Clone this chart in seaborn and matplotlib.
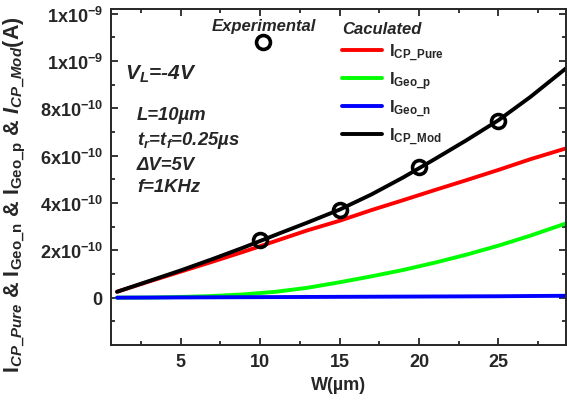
import numpy as np
import pandas as pd
import seaborn as sns
import matplotlib.pyplot as plt
from matplotlib.lines import Line2D

# W in um, currents in units of 1e-10 A
w = [1, 3, 5, 7, 9, 11, 13, 15, 17, 19, 21, 23, 25, 27, 29.3]
i_cp_pure = [0.25, 0.68, 1.1, 1.52, 1.95, 2.4, 2.85, 3.25, 3.7, 4.12, 4.55, 4.97, 5.4, 5.85, 6.32]
i_geo_p = [0.0, 0.005, 0.03, 0.07, 0.14, 0.25, 0.42, 0.65, 0.9, 1.17, 1.48, 1.82, 2.2, 2.62, 3.15]
i_geo_n = [0.0, 0.005, 0.01, 0.015, 0.02, 0.025, 0.03, 0.035, 0.04, 0.045, 0.05, 0.055, 0.06, 0.07, 0.08]
i_cp_mod = [0.25, 0.7, 1.15, 1.63, 2.13, 2.66, 3.18, 3.72, 4.36, 5.08, 5.86, 6.66, 7.5, 8.48, 9.72]

w_exp = [10, 15, 20, 25]
i_exp = [2.45, 3.72, 5.52, 7.48]

ytick_vals = [0, 2, 4, 6, 8, 10, 12]
ytick_labels = ['0', r'$\mathrm{2x10^{-10}}$', r'$\mathrm{4x10^{-10}}$', r'$\mathrm{6x10^{-10}}$',
                r'$\mathrm{8x10^{-10}}$', r'$\mathrm{1x10^{-9}}$', r'$\mathrm{1x10^{-9}}$']
xtick_vals = [5, 10, 15, 20, 25]

sns.set_style('ticks')
plt.rcParams['font.family'] = ['Liberation Sans', 'DejaVu Sans']
plt.rcParams['font.weight'] = 'bold'
plt.rcParams['mathtext.fontset'] = 'custom'
plt.rcParams['mathtext.rm'] = 'Liberation Sans:bold'
plt.rcParams['mathtext.bf'] = 'Liberation Sans:bold'
plt.rcParams['mathtext.it'] = 'Liberation Sans:italic:bold'
plt.rcParams['mathtext.sf'] = 'Liberation Sans:bold'

fig = plt.figure(figsize=(5.67, 4.06), dpi=100)
ax = fig.add_axes([0.1958, 0.1478, 0.8025, 0.8276])

lw = 2.8
sns.lineplot(x=w, y=i_geo_p, color='#00ff00', lw=lw, ax=ax)
sns.lineplot(x=w, y=i_geo_n, color='#0000ff', lw=lw, ax=ax)
sns.lineplot(x=w, y=i_cp_pure, color='#ff0000', lw=lw, ax=ax)
sns.lineplot(x=w, y=i_cp_mod, color='black', lw=lw, ax=ax)
ax.plot(w_exp, i_exp, 'o', ms=10, mfc='none', mec='black', mew=2.6, zorder=5)

ax.set_xlim(0.62, 29.25)
ax.set_ylim(-2, 12.2)
ax.set_xticks(xtick_vals)
ax.set_xticks(np.arange(2.5, 29, 2.5), minor=True)
ax.set_yticks(ytick_vals)
ax.set_yticklabels(ytick_labels)
ax.set_yticks(np.arange(-1, 12.5, 1), minor=True)
ax.tick_params(which='both', direction='in', top=True, right=True, width=1.3,
               labelsize=13, pad=6)
ax.tick_params(which='major', length=5)
ax.tick_params(which='minor', length=3)
for s in ax.spines.values():
    s.set_linewidth(1.4)

ax.set_xlabel('W(µm)', fontsize=13, fontweight='bold', labelpad=4)
ax.set_ylabel(r'$\mathrm{I}_{\mathit{CP\_Pure}}$ & $\mathrm{I}_{\mathrm{Geo\_n}}$ & '
              r'$\mathrm{I}_{\mathrm{Geo\_p}}$ & $\mathit{I}_{\mathit{CP\_Mod}}$(A)',
              fontsize=15.5, fontweight='bold')
ax.yaxis.set_label_coords(-0.182, 0.45)

ax.text(0.031, 0.807, r'V$_\mathit{L}$=-4V', transform=ax.transAxes,
        fontsize=15, va='center', ha='left', style='italic')
notes = ['L=10µm', r't$_\mathit{r}$=t$_\mathit{f}$=0.25µs', 'ΔV=5V', 'f=1KHz']
for txt, yy in zip(notes, [0.685, 0.613, 0.536, 0.473]):
    ax.text(0.057, yy, txt, transform=ax.transAxes, fontsize=13.3, va='center',
            ha='left', style='italic')

# experimental legend
h_exp = Line2D([], [], ls='none', marker='o', ms=10, mfc='none', mec='black', mew=2.6)
leg1 = ax.legend([h_exp], [''], title='Experimental', loc='upper center',
                 bbox_to_anchor=(0.335, 0.995), frameon=False, handlelength=1,
                 handletextpad=0, borderpad=0, labelspacing=0.2,
                 title_fontproperties={'size': 12, 'weight': 'bold', 'style': 'italic'})
ax.add_artist(leg1)

# calculated legend
handles = [Line2D([], [], color=c, lw=lw) for c in ['#ff0000', '#00ff00', '#0000ff', 'black']]
labels = [r'$\mathrm{I_{CP\_Pure}}$', r'$\mathrm{I_{Geo\_p}}$', r'$\mathrm{I_{Geo\_n}}$', r'$\mathrm{I_{CP\_Mod}}$']
leg2 = ax.legend(handles, labels, title='Caculated', loc='upper left',
                 bbox_to_anchor=(0.49, 0.99), frameon=False, handlelength=2.4,
                 handletextpad=0.4, labelspacing=0.35, borderpad=0, fontsize=12,
                 title_fontproperties={'size': 12, 'weight': 'bold', 'style': 'italic'})
leg2._legend_box.align = 'left'

fig.savefig('out.png', dpi=100)
